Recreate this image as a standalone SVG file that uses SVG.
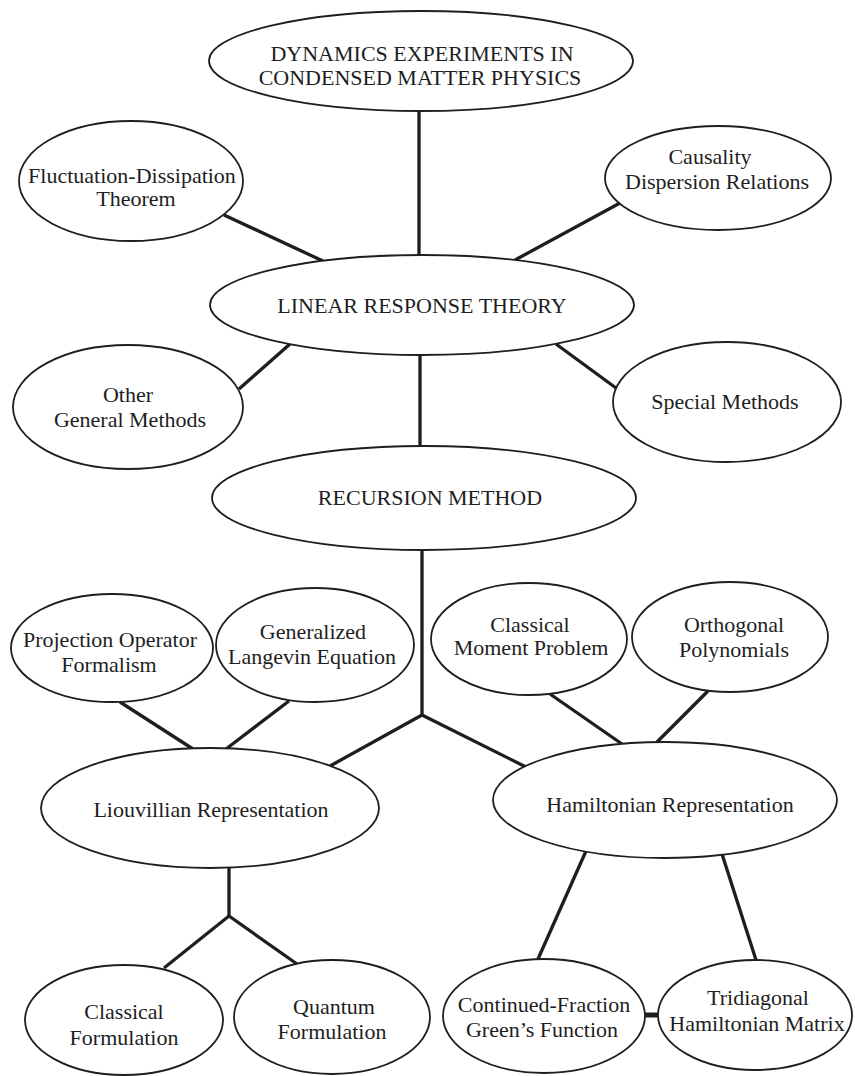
<svg xmlns="http://www.w3.org/2000/svg" width="855" height="1076" viewBox="0 0 855 1076">
<style>
.n{fill:#fff;stroke:#1e1e1e;stroke-width:1.8}
.c line{stroke:#1e1e1e;stroke-width:3.3;stroke-linecap:butt}
text{font-family:"Liberation Serif","Times New Roman",serif;fill:#1e1e1e;text-anchor:middle;font-size:22px}
</style>
<rect width="855" height="1076" fill="#fff"/>
<g class="c" id="connectors">
<line x1="419" y1="111" x2="419" y2="256"/>
<line x1="224" y1="215" x2="323" y2="261"/>
<line x1="620" y1="203" x2="515" y2="260"/>
<line x1="290" y1="344" x2="239" y2="389"/>
<line x1="556" y1="344" x2="616" y2="388"/>
<line x1="420" y1="355" x2="420" y2="446"/>
<line x1="422" y1="550" x2="422" y2="715"/>
<line x1="422" y1="715" x2="330" y2="766"/>
<line x1="422" y1="715" x2="526" y2="767"/>
<line x1="120" y1="702" x2="193" y2="749"/>
<line x1="289" y1="701" x2="226" y2="749"/>
<line x1="550" y1="694" x2="622" y2="744"/>
<line x1="708" y1="691" x2="657" y2="742"/>
<line x1="229" y1="867" x2="229" y2="916"/>
<line x1="229" y1="916" x2="164" y2="968"/>
<line x1="229" y1="916" x2="297" y2="964"/>
<line x1="586" y1="851" x2="538" y2="959"/>
<line x1="722" y1="854" x2="756" y2="960"/>
<line x1="644" y1="1015" x2="659" y2="1015" style="stroke-width:5"/>
</g>
<g id="dynamics">
<ellipse class="n" cx="421" cy="61" rx="212" ry="50"/>
<text x="422" y="61">DYNAMICS EXPERIMENTS IN</text>
<text x="420" y="85">CONDENSED MATTER PHYSICS</text>
</g>
<g id="fluctuation">
<ellipse class="n" cx="131" cy="181" rx="112" ry="60"/>
<text x="132" y="183">Fluctuation-Dissipation</text>
<text x="136" y="206">Theorem</text>
</g>
<g id="causality">
<ellipse class="n" cx="718" cy="178" rx="113" ry="52"/>
<text x="710" y="164">Causality</text>
<text x="717" y="189">Dispersion Relations</text>
</g>
<g id="linear">
<ellipse class="n" cx="422" cy="305" rx="212" ry="50"/>
<text x="422" y="313">LINEAR RESPONSE THEORY</text>
</g>
<g id="other">
<ellipse class="n" cx="128" cy="407" rx="115" ry="62"/>
<text x="128" y="402">Other</text>
<text x="130" y="427">General Methods</text>
</g>
<g id="special">
<ellipse class="n" cx="727" cy="402" rx="114" ry="60"/>
<text x="725" y="409">Special Methods</text>
</g>
<g id="recursion">
<ellipse class="n" cx="424" cy="498" rx="212" ry="52"/>
<text x="430" y="505">RECURSION METHOD</text>
</g>
<g id="projection">
<ellipse class="n" cx="112" cy="648" rx="101" ry="54"/>
<text x="110" y="647">Projection Operator</text>
<text x="109" y="672">Formalism</text>
</g>
<g id="langevin">
<ellipse class="n" cx="315" cy="645" rx="99" ry="57"/>
<text x="313" y="639">Generalized</text>
<text x="312" y="664">Langevin Equation</text>
</g>
<g id="moment">
<ellipse class="n" cx="529" cy="639" rx="98" ry="56"/>
<text x="530" y="632">Classical</text>
<text x="531" y="655">Moment Problem</text>
</g>
<g id="orthogonal">
<ellipse class="n" cx="730" cy="637" rx="98" ry="55"/>
<text x="734" y="632">Orthogonal</text>
<text x="734" y="657">Polynomials</text>
</g>
<g id="liouvillian">
<ellipse class="n" cx="210" cy="808" rx="169" ry="60"/>
<text x="211" y="817">Liouvillian Representation</text>
</g>
<g id="hamiltonian">
<ellipse class="n" cx="665" cy="800" rx="172" ry="58"/>
<text x="670" y="812">Hamiltonian Representation</text>
</g>
<g id="classical">
<ellipse class="n" cx="124" cy="1020" rx="99" ry="55"/>
<text x="124" y="1019">Classical</text>
<text x="124" y="1045">Formulation</text>
</g>
<g id="quantum">
<ellipse class="n" cx="332" cy="1017" rx="98" ry="57"/>
<text x="334" y="1014">Quantum</text>
<text x="332" y="1039">Formulation</text>
</g>
<g id="continued">
<ellipse class="n" cx="544" cy="1016" rx="101" ry="57"/>
<text x="544" y="1012">Continued-Fraction</text>
<text x="542" y="1037">Green’s Function</text>
</g>
<g id="tridiagonal">
<ellipse class="n" cx="755" cy="1015" rx="97" ry="55"/>
<text x="758" y="1005">Tridiagonal</text>
<text x="757" y="1031">Hamiltonian Matrix</text>
</g>
</svg>
